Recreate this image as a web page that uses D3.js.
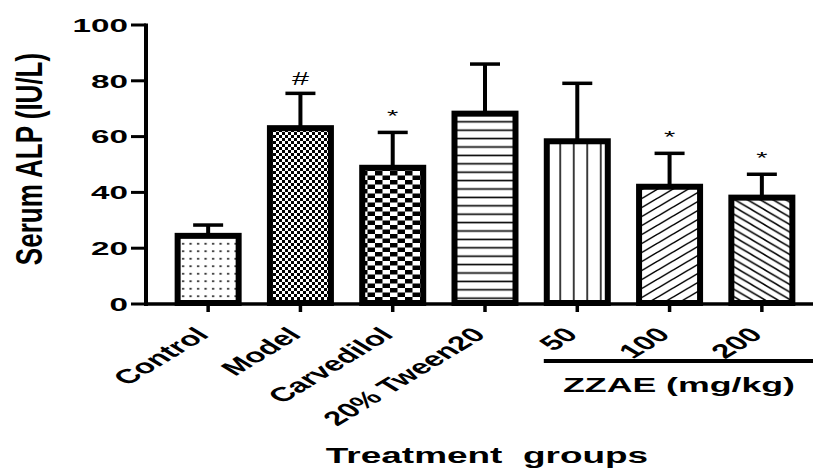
<!DOCTYPE html>
<html>
<head>
<meta charset="utf-8">
<script src="https://cdn.jsdelivr.net/npm/d3@7"></script>
<style>
  body { margin: 0; background: #fff; }
  text { font-family: "Liberation Sans", Arial, sans-serif; fill: #000; }
</style>
</head>
<body>
<div id="chart"></div>
<script>
var width = 813;
var height = 468;

// values
var groups = ["Control", "Model", "Carvedilol", "20% Tween20", "50", "100", "200"];
var means = [25.5, 64.1, 49.9, 69.3, 59.4, 43.1, 39.2];
var errors = [2.8, 11.4, 11.6, 16.7, 19.7, 10.9, 7.3];
var marks = ["", "#", "*", "", "", "*", "*"];
var yTicks = [0, 20, 40, 60, 80, 100];
var fills = ["dots", "fineCheck", "check", "hLines", "vLines", "diagUp", "diagDown"];

var sx = 1.7; // the original picture is stretched sideways

var x = d3.scaleBand().domain(groups).range([162, 808])
  .paddingInner(0.274).paddingOuter(0.137);
var y = d3.scaleLinear().domain([0, 100]).range([304, 25]);

var svg = d3.select("#chart").append("svg")
  .attr("width", width)
  .attr("height", height);

var defs = svg.append("defs");
function pattern(id, w, h) {
  var p = defs.append("pattern").attr("id", id)
    .attr("patternUnits", "userSpaceOnUse")
    .attr("width", w).attr("height", h);
  p.append("rect").attr("width", w).attr("height", h).attr("fill", "#fff");
  return p;
}
var p;
p = pattern("dots", 7.5, 7.5);
p.append("rect").attr("x", 2).attr("y", 3).attr("width", 2.2).attr("height", 1.5).attr("fill", "#000");
p = pattern("fineCheck", 6, 6);
p.append("rect").attr("width", 3).attr("height", 3).attr("fill", "#000");
p.append("rect").attr("x", 3).attr("y", 3).attr("width", 3).attr("height", 3).attr("fill", "#000");
p = pattern("check", 15, 9);
p.append("rect").attr("width", 7.5).attr("height", 4.5).attr("fill", "#000");
p.append("rect").attr("x", 7.5).attr("y", 4.5).attr("width", 7.5).attr("height", 4.5).attr("fill", "#000");
p = pattern("hLines", 10, 8.4);
p.append("line").attr("x1", 0).attr("x2", 10).attr("y1", 4.2).attr("y2", 4.2)
  .attr("stroke", "#000").attr("stroke-width", 1.6);
p = pattern("vLines", 13.5, 10);
p.append("line").attr("x1", 6.75).attr("x2", 6.75).attr("y1", 0).attr("y2", 10)
  .attr("stroke", "#000").attr("stroke-width", 1.5);
function hatch(id, h, up) {
  var w = h * sx;
  var q = pattern(id, w, h);
  var d = up
    ? "M0," + h + "L" + w + ",0M" + (-w) + "," + h + "L" + w + "," + (-h) + "M0," + (2 * h) + "L" + (2 * w) + ",0"
    : "M0,0L" + w + "," + h + "M" + (-w) + ",0L" + w + "," + (2 * h) + "M0," + (-h) + "L" + (2 * w) + "," + h;
  q.append("path").attr("d", d).attr("stroke", "#000").attr("stroke-width", 1.5);
}
hatch("diagUp", 9, true);
hatch("diagDown", 7.5, false);

var data = groups.map(function(g, i) {
  return {name: g, mean: means[i], err: errors[i], mark: marks[i], fill: fills[i]};
});
var bw = x.bandwidth();

// error bars
var eb = svg.append("g").selectAll("g").data(data).enter().append("g");
eb.append("line")
  .attr("x1", function(d) { return x(d.name) + bw / 2; })
  .attr("x2", function(d) { return x(d.name) + bw / 2; })
  .attr("y1", function(d) { return y(d.mean) + 3; })
  .attr("y2", function(d) { return y(d.mean + d.err); })
  .attr("stroke", "#000").attr("stroke-width", 4);
eb.append("line")
  .attr("x1", function(d) { return x(d.name) + bw / 2 - 15; })
  .attr("x2", function(d) { return x(d.name) + bw / 2 + 15; })
  .attr("y1", function(d) { return y(d.mean + d.err); })
  .attr("y2", function(d) { return y(d.mean + d.err); })
  .attr("stroke", "#000").attr("stroke-width", 3.5);

// bars
svg.append("g").selectAll("rect").data(data).enter().append("rect")
  .attr("x", function(d) { return x(d.name) + 3; })
  .attr("width", bw - 6)
  .attr("y", function(d) { return y(d.mean) + 3; })
  .attr("height", function(d) { return y(0) - y(d.mean) - 4; })
  .attr("fill", function(d) { return "url(#" + d.fill + ")"; })
  .attr("stroke", "#000").attr("stroke-width", 6);

// significance marks
svg.append("g").selectAll("text").data(data.filter(function(d) { return d.mark; })).enter().append("text")
  .attr("text-anchor", "middle")
  .attr("transform", function(d) {
    var off = d.mark == "#" ? 15 : 21;
    return "translate(" + (x(d.name) + bw / 2) + "," + (y(d.mean + d.err) - off) + ") scale(" + sx + ",1)";
  })
  .attr("dy", function(d) { return d.mark == "#" ? "0.36em" : "0.62em"; })
  .style("font-size", function(d) { return d.mark == "#" ? "18px" : "17px"; })
  .text(function(d) { return d.mark; });

// y axis
var ya = svg.append("g");
ya.append("line").attr("x1", 146).attr("x2", 146).attr("y1", y(100) - 1.5).attr("y2", y(0) + 2)
  .attr("stroke", "#000").attr("stroke-width", 4);
ya.selectAll(".tk").data(yTicks).enter().append("line")
  .attr("x1", 131).attr("x2", 146)
  .attr("y1", function(d) { return y(d); }).attr("y2", function(d) { return y(d); })
  .attr("stroke", "#000").attr("stroke-width", 3);
ya.selectAll("text").data(yTicks).enter().append("text")
  .attr("text-anchor", "end")
  .attr("transform", function(d) { return "translate(128," + y(d) + ") scale(1.75,1)"; })
  .attr("dy", "0.36em")
  .style("font-size", "19px").style("font-weight", "bold")
  .text(function(d) { return d; });

// x axis
var xa = svg.append("g");
xa.append("line").attr("x1", 144).attr("x2", width).attr("y1", y(0)).attr("y2", y(0))
  .attr("stroke", "#000").attr("stroke-width", 3.5);
xa.selectAll(".tk").data(groups).enter().append("line")
  .attr("x1", function(d) { return x(d) + bw / 2; })
  .attr("x2", function(d) { return x(d) + bw / 2; })
  .attr("y1", y(0)).attr("y2", y(0) + 8)
  .attr("stroke", "#000").attr("stroke-width", 3.5);
xa.selectAll("text").data(groups).enter().append("text")
  .attr("text-anchor", "end")
  .attr("transform", function(d) {
    return "translate(" + (x(d) + bw / 2 + 2) + ",336) scale(1.65,1) rotate(-45)";
  })
  .style("font-size", "20px").style("font-weight", "bold")
  .text(function(d) { return d; });

// ZZAE bracket
svg.append("line").attr("x1", x("50") + 0).attr("x2", width)
  .attr("y1", 361).attr("y2", 361)
  .attr("stroke", "#000").attr("stroke-width", 4);
svg.append("text")
  .attr("text-anchor", "middle")
  .attr("transform", "translate(679,392) scale(" + sx + ",1)")
  .style("font-size", "21px").style("font-weight", "bold")
  .text("ZZAE (mg/kg)");

// axis titles
svg.append("text")
  .attr("text-anchor", "middle")
  .attr("transform", "translate(487,463) scale(1.68,1)")
  .style("font-size", "22px").style("font-weight", "bold")
  .style("white-space", "pre")
  .text("Treatment  groups");
svg.append("text")
  .attr("text-anchor", "middle")
  .attr("transform", "translate(28,159) scale(1.45,1) rotate(-90)")
  .attr("dy", "0.36em")
  .style("font-size", "26px").style("font-weight", "bold")
  .text("Serum ALP (IU/L)");
</script>
</body>
</html>
